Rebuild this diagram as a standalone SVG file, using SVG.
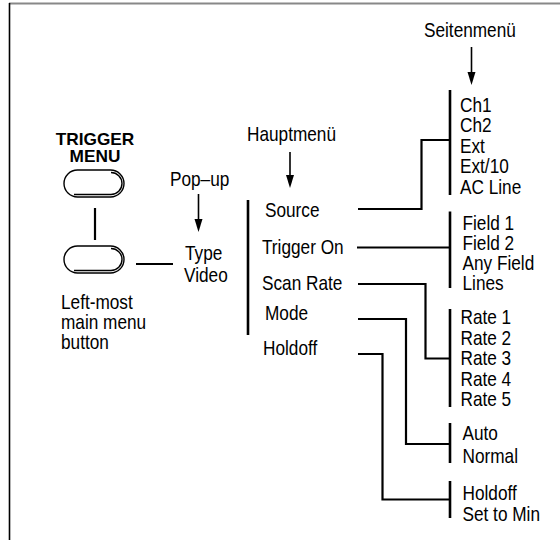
<svg xmlns="http://www.w3.org/2000/svg" width="560" height="540" viewBox="0 0 560 540">
<style>
text{font-family:"Liberation Sans",Arial,"Helvetica",sans-serif;font-size:21px;fill:#000}
.b{font-weight:bold;font-size:16px}
.c{fill:none;stroke:#000;stroke-width:2.2}
.bar{fill:none;stroke:#000;stroke-width:2.6}
.btn{fill:#fff;stroke:#000;stroke-width:1.4}
.ar{stroke:#000;stroke-width:1.6}
.ah{fill:#000}
</style>
<rect width="560" height="540" fill="#fff"/>
<line x1="9" y1="3.5" x2="560" y2="3.5" stroke="#888" stroke-width="2"/>
<line x1="9.5" y1="3" x2="9.5" y2="540" stroke="#000" stroke-width="1.6"/>

<g id="trigger-menu">
<text class="b" transform="matrix(1.08 0 0 1 95 145)" text-anchor="middle">TRIGGER</text>
<text class="b" transform="matrix(1.08 0 0 1 95 161.5)" text-anchor="middle">MENU</text>
<rect class="btn" x="64" y="170" width="60" height="27" rx="13.5"/>
<path d="M74 194.5 H111 A11 11 0 0 0 111 172.5" fill="none" stroke="#000" stroke-width="1.4"/>
</g>
<g id="leftmost-button">
<rect class="btn" x="64" y="246" width="60" height="27" rx="13.5"/>
<path d="M74 270.5 H111 A11 11 0 0 0 111 248.5" fill="none" stroke="#000" stroke-width="1.4"/>
<text transform="matrix(.82 0 0 1 61 309)">Left-most</text>
<text transform="matrix(.82 0 0 1 61 329)">main menu</text>
<text transform="matrix(.82 0 0 1 61 349)">button</text>
</g>
<g id="popup">
<text transform="matrix(.82 0 0 1 170 186)">Pop–up</text>
<text transform="matrix(.82 0 0 1 185 260)">Type</text>
<text transform="matrix(.82 0 0 1 184 282)">Video</text>
</g>
<g id="hauptmenu">
<text transform="matrix(.82 0 0 1 247 141)">Hauptmenü</text>
<line class="bar" x1="248" y1="200" x2="248" y2="335"/>
<text transform="matrix(.82 0 0 1 265 217)">Source</text>
<text transform="matrix(.82 0 0 1 262 254)">Trigger On</text>
<text transform="matrix(.82 0 0 1 262 290)">Scan Rate</text>
<text transform="matrix(.82 0 0 1 265 320)">Mode</text>
<text transform="matrix(.82 0 0 1 263 355)">Holdoff</text>
</g>
<g id="seitenmenu">
<text transform="matrix(.82 0 0 1 424 37)">Seitenmenü</text>
</g>
<g id="source-menu">
<line class="bar" x1="450" y1="90" x2="450" y2="195"/>
<text transform="matrix(.82 0 0 1 460 112)">Ch1</text>
<text transform="matrix(.82 0 0 1 460 132)">Ch2</text>
<text transform="matrix(.82 0 0 1 460 152.5)">Ext</text>
<text transform="matrix(.82 0 0 1 460 173)">Ext/10</text>
<text transform="matrix(.82 0 0 1 460 193.5)">AC Line</text>
</g>
<g id="trigger-on-menu">
<line class="bar" x1="450" y1="211.5" x2="450" y2="288"/>
<text transform="matrix(.82 0 0 1 462.5 230)">Field 1</text>
<text transform="matrix(.82 0 0 1 462.5 250)">Field 2</text>
<text transform="matrix(.82 0 0 1 462.5 270)">Any Field</text>
<text transform="matrix(.82 0 0 1 462.5 290)">Lines</text>
</g>
<g id="scan-rate-menu">
<line class="bar" x1="450" y1="309" x2="450" y2="407"/>
<text transform="matrix(.82 0 0 1 460.5 324)">Rate 1</text>
<text transform="matrix(.82 0 0 1 460.5 344.5)">Rate 2</text>
<text transform="matrix(.82 0 0 1 460.5 365)">Rate 3</text>
<text transform="matrix(.82 0 0 1 460.5 385.5)">Rate 4</text>
<text transform="matrix(.82 0 0 1 460.5 406)">Rate 5</text>
</g>
<g id="mode-menu">
<line class="bar" x1="450" y1="423" x2="450" y2="463"/>
<text transform="matrix(.82 0 0 1 462.5 440)">Auto</text>
<text transform="matrix(.82 0 0 1 462.5 462.5)">Normal</text>
</g>
<g id="holdoff-menu">
<line class="bar" x1="450" y1="481" x2="450" y2="518"/>
<text transform="matrix(.82 0 0 1 462.5 500)">Holdoff</text>
<text transform="matrix(.82 0 0 1 462.5 521)">Set to Min</text>
</g>

<g id="connectors">
<line class="c" x1="95" y1="208" x2="95" y2="240"/>
<line class="c" x1="136" y1="264" x2="173" y2="264"/>
<line class="ar" x1="198.5" y1="194" x2="198.5" y2="221"/>
<polygon class="ah" points="194.5,219 202.5,219 198.5,232"/>
<line class="ar" x1="290" y1="152" x2="290" y2="177"/>
<polygon class="ah" points="286,175 294,175 290,188"/>
<line class="ar" x1="471.5" y1="47" x2="471.5" y2="74"/>
<polygon class="ah" points="467.5,72 475.5,72 471.5,85"/>
<polyline class="c" points="358,209 421.5,209 421.5,140 450,140"/>
<polyline class="c" points="357,247.5 450,247.5"/>
<polyline class="c" points="358,284 425.5,284 425.5,358.5 450,358.5"/>
<polyline class="c" points="358,319 406,319 406,444 450,444"/>
<polyline class="c" points="358,354 382.5,354 382.5,499.5 450,499.5"/>
</g>
</svg>
